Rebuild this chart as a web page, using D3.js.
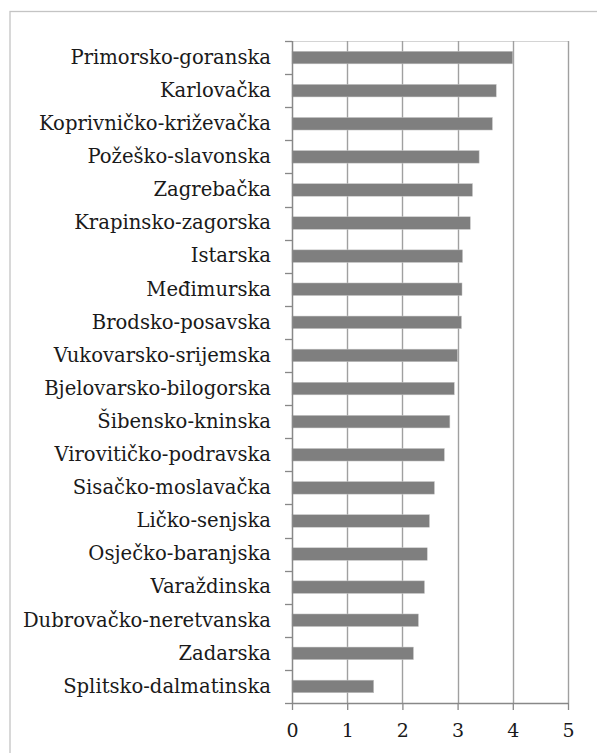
<!DOCTYPE html>
<html>
<head>
<meta charset="utf-8">
<script src="https://cdn.jsdelivr.net/npm/d3@7"></script>
<style>
  html, body { margin: 0; padding: 0; background: #fff; }
  svg { display: block; }
  text { font-family: "DejaVu Serif", "Liberation Serif", serif; fill: #1a1a1a; }
</style>
</head>
<body>
<svg id="chart" width="597" height="753"></svg>
<script>
const categories = [
  "Primorsko-goranska", "Karlovačka", "Koprivničko-križevačka", "Požeško-slavonska",
  "Zagrebačka", "Krapinsko-zagorska", "Istarska", "Međimurska", "Brodsko-posavska",
  "Vukovarsko-srijemska", "Bjelovarsko-bilogorska", "Šibensko-kninska",
  "Virovitičko-podravska", "Sisačko-moslavačka", "Ličko-senjska", "Osječko-baranjska",
  "Varaždinska", "Dubrovačko-neretvanska", "Zadarska", "Splitsko-dalmatinska"
];
const values = [
  4.00, 3.70, 3.63, 3.39, 3.27, 3.23, 3.09, 3.08, 3.07, 3.00,
  2.94, 2.86, 2.76, 2.58, 2.49, 2.45, 2.40, 2.29, 2.20, 1.48
];
const xTicks = [0, 1, 2, 3, 4, 5];
const xTickLabels = ["0", "1", "2", "3", "4", "5"];

(function () {
const svg = d3.select("#chart");

// outer chart border (extends beyond right/bottom of the window)
svg.append("rect")
  .attr("x", 10).attr("y", 11.5)
  .attr("width", 600).attr("height", 760)
  .attr("fill", "none").attr("stroke", "#c4c4c4").attr("stroke-width", 1.3);

const pLeft = 292, pRight = 568, pTop = 41, pBottom = 703;

const x = d3.scaleLinear().domain([0, 5]).range([pLeft, pRight]);
const y = d3.scaleBand().domain(categories).range([pTop, pBottom]).paddingInner(0).paddingOuter(0);

// plot area top line
svg.append("line")
  .attr("x1", pLeft).attr("x2", pRight).attr("y1", pTop + 0.5).attr("y2", pTop + 0.5)
  .attr("stroke", "#d4d4d4").attr("stroke-width", 1);

// vertical gridlines
svg.append("g").selectAll("line")
  .data(xTicks.filter(d => d > 0))
  .join("line")
  .attr("x1", d => Math.round(x(d)) + 0.5).attr("x2", d => Math.round(x(d)) + 0.5)
  .attr("y1", pTop).attr("y2", pBottom)
  .attr("stroke", "#a0a0a0").attr("stroke-width", 1.4);

// bars
const barH = y.bandwidth() * 0.38;
svg.append("g").selectAll("rect")
  .data(categories.map((c, i) => ({ c, v: values[i] })))
  .join("rect")
  .attr("x", x(0))
  .attr("y", d => y(d.c) + (y.bandwidth() - barH) / 2)
  .attr("width", d => x(d.v) - x(0))
  .attr("height", barH)
  .attr("fill", "#7f7f7f")
  .attr("stroke", "#c8c8c8").attr("stroke-width", 0.5);

// left category axis
const yAxis = d3.axisLeft(y).tickSize(0).tickPadding(21);
const gy = svg.append("g").attr("transform", `translate(${pLeft},0)`).call(yAxis);
gy.select(".domain").remove();
gy.selectAll("text")
  .attr("font-size", "19.6px")
  .attr("font-family", "DejaVu Serif, Liberation Serif, serif")
  .attr("fill", "#1a1a1a");

// left tick marks at band boundaries
const bounds = categories.map(c => y(c)).concat([pBottom]);
svg.append("g").selectAll("line")
  .data(bounds)
  .join("line")
  .attr("x1", pLeft - 7).attr("x2", pLeft)
  .attr("y1", d => Math.round(d) + 0.5).attr("y2", d => Math.round(d) + 0.5)
  .attr("stroke", "#888").attr("stroke-width", 1.3);

// left axis line
svg.append("line")
  .attr("x1", pLeft + 0.5).attr("x2", pLeft + 0.5).attr("y1", pTop).attr("y2", pBottom)
  .attr("stroke", "#888").attr("stroke-width", 1.5);

// bottom axis
const xAxis = d3.axisBottom(x).tickValues(xTicks)
  .tickFormat((d, i) => xTickLabels[i]).tickSize(7).tickSizeOuter(0).tickPadding(14);
const gx = svg.append("g").attr("transform", `translate(0,${pBottom})`).call(xAxis);
gx.select(".domain").attr("stroke", "#888").attr("stroke-width", 1.5);
gx.selectAll(".tick line").attr("stroke", "#888").attr("stroke-width", 1.3);
gx.selectAll("text")
  .attr("font-size", "19px")
  .attr("font-family", "DejaVu Serif, Liberation Serif, serif")
  .attr("fill", "#1a1a1a");
})();
</script>
</body>
</html>
